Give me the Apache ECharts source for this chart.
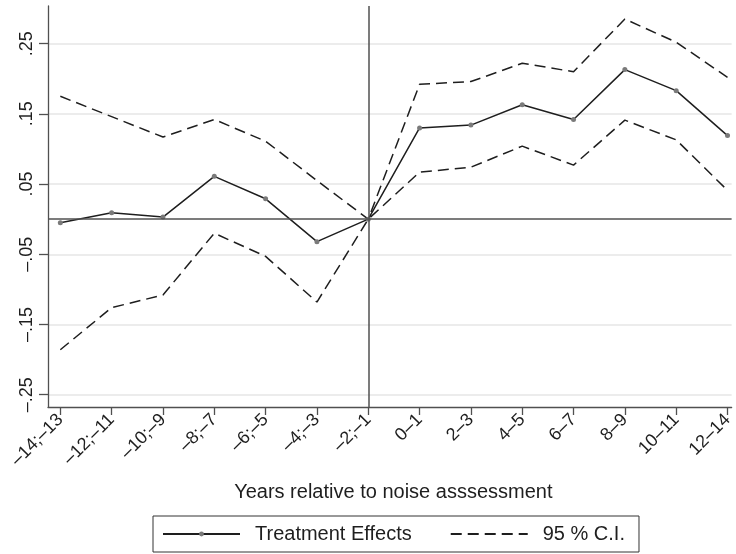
<!DOCTYPE html>
<html>
<head>
<meta charset="utf-8">
<script src="https://cdn.jsdelivr.net/npm/echarts@6/dist/echarts.min.js"></script>
<style>
  html, body { margin: 0; padding: 0; background: #fff; overflow: hidden; }
  #chart { width: 736px; height: 554px; }
</style>
</head>
<body>
<div id="chart"></div>
<script>
// Event-study periods (years relative to the noise assessment)
const periods = ['–14;–13', '–12;–11', '–10;–9', '–8;–7', '–6;–5', '–4;–3', '–2;–1',
                 '0–1', '2–3', '4–5', '6–7', '8–9', '10–11', '12–14'];

// Point estimates and 95% confidence bounds
const effect  = [-0.005, 0.009, 0.003, 0.061, 0.029, -0.032, 0, 0.130, 0.134, 0.163, 0.142, 0.213, 0.183, 0.119];
const ciUpper = [0.175, 0.146, 0.117, 0.142, 0.111, 0.055, 0, 0.192, 0.196, 0.222, 0.210, 0.285, 0.252, 0.202];
const ciLower = [-0.186, -0.126, -0.108, -0.020, -0.053, -0.118, 0, 0.067, 0.074, 0.104, 0.077, 0.141, 0.113, 0.041];

// Y tick positions and their printed labels
const yTickValues = [-0.25, -0.15, -0.05, 0.05, 0.15, 0.25];
const yTickLabels = ['–.25', '–.15', '–.05', '.05', '.15', '.25'];

// Reference period (last pre-treatment bin)
const refIndex = 6;

const FONT = "'Liberation Sans', Arial, Helvetica, sans-serif";
const AXIS_GRAY = '#505050';
const INK = '#1e1e1e';

const xIdx = periods.map((_, i) => i);
const toPairs = arr => arr.map((v, i) => [i, v]);

const chart = echarts.init(document.getElementById('chart'), null, { renderer: 'canvas' });

chart.setOption({
  animation: false,
  backgroundColor: '#ffffff',
  textStyle: { fontFamily: FONT },
  grid: { left: 48, top: 6, right: 0, bottom: 147, containLabel: false },
  xAxis: {
    type: 'value',
    min: -0.24,
    max: 13.08,
    name: 'Years relative to noise asssessment',
    nameLocation: 'middle',
    nameGap: 75,
    nameTextStyle: { fontSize: 20, color: INK, fontFamily: FONT, padding: [0, 0, 0, 7] },
    axisLine: { show: true, onZero: false, lineStyle: { color: AXIS_GRAY, width: 1.3 } },
    axisTick: { show: true, length: 8, customValues: xIdx, lineStyle: { color: AXIS_GRAY, width: 1.3 } },
    axisLabel: {
      customValues: xIdx,
      rotate: 45,
      margin: 10,
      fontSize: 18,
      color: INK,
      fontFamily: FONT,
      formatter: v => periods[Math.round(v)] || ''
    },
    splitLine: { show: false }
  },
  yAxis: {
    type: 'value',
    min: -0.2675,
    max: 0.3036,
    axisLine: { show: true, onZero: false, lineStyle: { color: AXIS_GRAY, width: 1.3 } },
    axisTick: { show: true, length: 9, customValues: yTickValues, lineStyle: { color: AXIS_GRAY, width: 1.3 } },
    axisLabel: {
      customValues: yTickValues,
      rotate: 90,
      margin: 12,
      fontSize: 18,
      color: INK,
      fontFamily: FONT,
      formatter: v => {
        const k = yTickValues.findIndex(t => Math.abs(t - v) < 1e-6);
        return k >= 0 ? yTickLabels[k] : '';
      }
    },
    splitLine: { show: true, customValues: yTickValues, lineStyle: { color: '#e6e6e6', width: 1.6 } }
  },
  legend: {
    left: 153,
    top: 516,
    orient: 'horizontal',
    data: ['Treatment Effects', '95 % C.I.'],
    itemWidth: 77,
    itemHeight: 6,
    itemGap: 38,
    borderColor: '#333',
    borderWidth: 1,
    borderRadius: 0,
    padding: [8, 14, 8, 9],
    textStyle: { fontSize: 20, color: INK, fontFamily: FONT, padding: [0, 0, 0, 10] },
    selectedMode: false
  },
  series: [
    {
      name: '95 % C.I.',
      type: 'line',
      data: toPairs(ciUpper),
      symbol: 'none',
      itemStyle: { color: 'rgba(0,0,0,0)' },
      lineStyle: { color: INK, width: 1.5, type: [11, 6] },
      z: 3,
      markLine: {
        silent: true,
        symbol: 'none',
        label: { show: false },
        lineStyle: { color: AXIS_GRAY, width: 1.5, type: 'solid' },
        data: [{ yAxis: 0 }, { xAxis: refIndex }]
      }
    },
    {
      name: '95 % C.I.',
      type: 'line',
      data: toPairs(ciLower),
      symbol: 'none',
      itemStyle: { color: 'rgba(0,0,0,0)' },
      lineStyle: { color: INK, width: 1.5, type: [11, 6] },
      z: 3
    },
    {
      name: 'Treatment Effects',
      type: 'line',
      data: toPairs(effect),
      symbol: 'circle',
      symbolSize: 5,
      showSymbol: true,
      itemStyle: { color: '#7a7a7a' },
      lineStyle: { color: INK, width: 1.5 },
      z: 4
    }
  ]
});
</script>
</body>
</html>
